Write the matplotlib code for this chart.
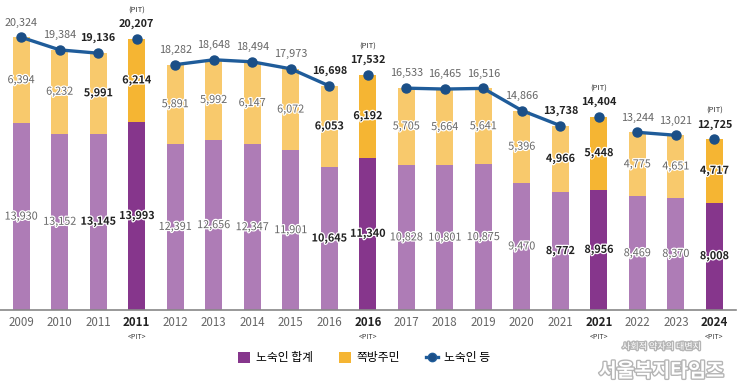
import matplotlib.pyplot as plt
import matplotlib.patheffects as pe
from matplotlib.lines import Line2D
from matplotlib.patches import Patch

plt.rcParams['font.family'] = ['Noto Sans CJK KR', 'DejaVu Sans']

# data
years = ['2009', '2010', '2011', '2011', '2012', '2013', '2014', '2015', '2016', '2016',
         '2017', '2018', '2019', '2020', '2021', '2021', '2022', '2023', '2024']
is_pit = [False, False, False, True, False, False, False, False, False, True,
          False, False, False, False, False, True, False, False, True]
homeless = [13930, 13152, 13145, 13993, 12391, 12656, 12347, 11901, 10645, 11340,
            10828, 10801, 10875, 9470, 8772, 8956, 8469, 8370, 8008]
jjokbang = [6394, 6232, 5991, 6214, 5891, 5992, 6147, 6072, 6053, 6192,
            5705, 5664, 5641, 5396, 4966, 5448, 4775, 4651, 4717]
totals = [20324, 19384, 19136, 20207, 18282, 18648, 18494, 17973, 16698, 17532,
          16533, 16465, 16516, 14866, 13738, 14404, 13244, 13021, 12725]
# line segments (indexes joined by the blue line)
groups = [[0, 1, 2], [3], [4, 5, 6, 7, 8], [9], [10, 11, 12, 13, 14], [15], [16, 17], [18]]
bold_idx = {2, 8, 14}

c_purple = '#ae7cb6'
c_purple_d = '#86368c'
c_yellow = '#f8c96c'
c_yellow_d = '#f5b533'
c_line = '#1f5c9a'
c_text = '#666666'

fig = plt.figure(figsize=(7.43, 3.91), dpi=100)
ax = fig.add_axes([0.0, 0.207, 0.99, 0.793])

x = list(range(len(years)))
bw = 0.44
pc = [c_purple_d if p else c_purple for p in is_pit]
yc = [c_yellow_d if p else c_yellow for p in is_pit]
ax.bar(x, homeless, width=bw, color=pc, zorder=2)
ax.bar(x, jjokbang, width=bw, bottom=homeless, color=yc, zorder=2)

for g in groups:
    ax.plot([x[i] for i in g], [totals[i] for i in g], color=c_line, lw=2.4,
            marker='o', markersize=6.5, markerfacecolor='#1b4f87',
            markeredgecolor='#1b4f87', zorder=4)

outline = [pe.withStroke(linewidth=1.8, foreground='white')]
for i in x:
    strong = is_pit[i] or i in bold_idx
    col = '#222222' if strong else c_text
    fw = 'bold' if strong else 'normal'
    ax.text(i, homeless[i] / 2, f'{homeless[i]:,}', ha='center', va='center',
            fontsize=7.8, color=col, fontweight=fw, path_effects=outline, zorder=5)
    ax.text(i, homeless[i] + jjokbang[i] / 2, f'{jjokbang[i]:,}', ha='center', va='center',
            fontsize=7.8, color=col, fontweight=fw, path_effects=outline, zorder=5)
    ax.annotate(f'{totals[i]:,}', (i, totals[i]), xytext=(0, 7), textcoords='offset points',
                ha='center', va='bottom', fontsize=7.8, color=col, fontweight=fw, zorder=5)
    if is_pit[i]:
        ax.annotate('(PIT)', (i, totals[i]), xytext=(0, 17.5), textcoords='offset points',
                    ha='center', va='bottom', fontsize=5.5, color='#333333', zorder=5)

ax.set_xlim(-0.55, 18.55)
ax.set_ylim(0, 23100)
ax.set_xticks(x)
ax.set_xticklabels([])
ax.tick_params(axis='x', length=0)
ax.set_yticks([])
for s in ['top', 'right', 'left']:
    ax.spines[s].set_visible(False)
ax.spines['bottom'].set_color('#888888')
ax.spines['bottom'].set_linewidth(1.2)

for i in x:
    if is_pit[i]:
        ax.text(i, -0.018, years[i], transform=ax.get_xaxis_transform(), ha='center', va='top',
                fontsize=8.3, fontweight='bold', color='#222222')
        ax.text(i, -0.075, '<PIT>', transform=ax.get_xaxis_transform(), ha='center', va='top',
                fontsize=5, color='#333333')
    else:
        ax.text(i, -0.018, years[i], transform=ax.get_xaxis_transform(), ha='center', va='top',
                fontsize=8.3, color=c_text)

handles = [Patch(facecolor=c_purple_d, label='노숙인 합계'),
           Patch(facecolor=c_yellow_d, label='쪽방주민'),
           Line2D([0], [0], color=c_line, lw=2.4, marker='o', markersize=6,
                  markerfacecolor='#1b4f87', label='노숙인 등')]
fig.legend(handles=handles, loc='center', bbox_to_anchor=(0.49, 0.085), ncol=3,
           frameon=False, fontsize=8.5, handlelength=1.0, handleheight=1.0,
           columnspacing=2.2, handletextpad=0.5)

# watermark
shadow = [pe.withStroke(linewidth=2.0, foreground='#b5b5b5')]
fig.text(0.89, 0.113, '사회적 약자의 대변지', ha='center', va='center', fontsize=6.5,
         color='white', path_effects=shadow)
fig.text(0.89, 0.05, '서울복지타임즈', ha='center', va='center', fontsize=14,
         fontweight='bold', color='white', path_effects=shadow)

fig.savefig('out.png', dpi=100)
